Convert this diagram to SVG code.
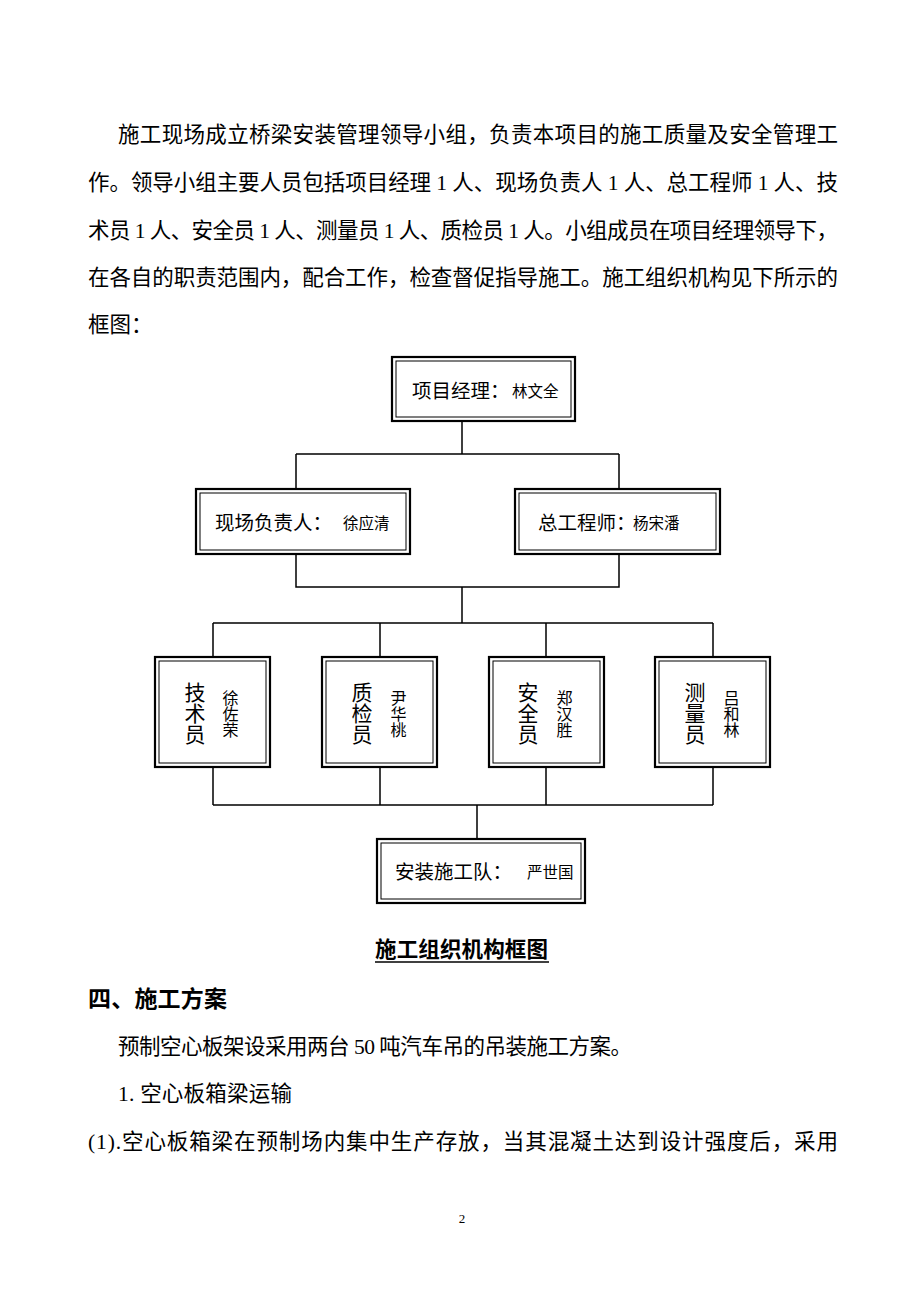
<svg xmlns="http://www.w3.org/2000/svg" width="920" height="1302" viewBox="0 0 920 1302">
<style>
.t{font-family:"Liberation Serif","Noto Sans CJK SC",serif;fill:#000}
.p{font-size:21.5px}
.b{font-weight:bold}
.big{font-size:19.5px}
.sm{font-size:15.5px}
.vb{font-size:21px;writing-mode:vertical-rl}
.vs{font-size:16px;writing-mode:vertical-rl}
.o{fill:#fff;stroke:#000;stroke-width:2.2}
.i{fill:none;stroke:#000;stroke-width:1}
.c{fill:none;stroke:#000;stroke-width:1.5}
</style>
<rect width="920" height="1302" fill="#fff"/>
<g id="text">
<text class="t p" x="118" y="142" textLength="720" lengthAdjust="spacing">施工现场成立桥梁安装管理领导小组，负责本项目的施工质量及安全管理工</text>
<text class="t p" x="88" y="190" textLength="750" lengthAdjust="spacing">作。领导小组主要人员包括项目经理 1 人、现场负责人 1 人、总工程师 1 人、技</text>
<text class="t p" x="88" y="238" textLength="750" lengthAdjust="spacing">术员 1 人、安全员 1 人、测量员 1 人、质检员 1 人。小组成员在项目经理领导下，</text>
<text class="t p" x="88" y="285" textLength="750" lengthAdjust="spacing">在各自的职责范围内，配合工作，检查督促指导施工。施工组织机构见下所示的</text>
<text class="t p" x="88" y="332">框图：</text>
<text class="t p b" x="375" y="957" textLength="173" lengthAdjust="spacing">施工组织机构框图</text>
<line x1="375" y1="962" x2="549" y2="962" stroke="#000" stroke-width="1.5"/>
<text class="t b" x="88" y="1007" font-size="23" textLength="139" lengthAdjust="spacing">四、施工方案</text>
<text class="t p" x="118" y="1054" textLength="514" lengthAdjust="spacing">预制空心板架设采用两台 50 吨汽车吊的吊装施工方案。</text>
<text class="t p" x="118" y="1101" textLength="174" lengthAdjust="spacing">1. 空心板箱梁运输</text>
<text class="t p" x="88" y="1149" textLength="750" lengthAdjust="spacing">(1).空心板箱梁在预制场内集中生产存放，当其混凝土达到设计强度后，采用</text>
<text class="t" x="462" y="1223" font-size="13" text-anchor="middle">2</text>
</g>
<g id="connectors">
<path class="c" d="M462 421V454M296 454H619M296 454V489M619 454V489"/>
<path class="c" d="M296 554V587H619V554M462 587V623M213 623H713M213 623V657M380 623V657M546 623V657M713 623V657"/>
<path class="c" d="M213 767V805M380 767V805M546 767V805M713 767V805M213 805H713M477 805V839"/>
</g>
<g id="n-manager">
<rect class="o" x="392" y="357" width="183" height="64"/>
<rect class="i" x="396" y="361" width="175" height="56"/>
<text class="t big" x="412" y="398">项目经理：</text>
<text class="t sm" x="512" y="397">林文全</text>
</g>
<g id="n-site">
<rect class="o" x="196" y="489" width="214" height="65"/>
<rect class="i" x="200" y="493" width="206" height="57"/>
<text class="t big" x="215" y="530">现场负责人：</text>
<text class="t sm" x="343" y="529">徐应清</text>
</g>
<g id="n-chief">
<rect class="o" x="515" y="489" width="205" height="65"/>
<rect class="i" x="519" y="493" width="197" height="57"/>
<text class="t big" x="538" y="530">总工程师：</text>
<text class="t sm" x="633" y="529">杨宋潘</text>
</g>
<g id="n-tech">
<rect class="o" x="155" y="657" width="115" height="110"/>
<rect class="i" x="159" y="661" width="107" height="102"/>
<text class="t vb" x="193" y="682">技术员</text>
<text class="t vs" x="229" y="690">徐佐荣</text>
</g>
<g id="n-qc">
<rect class="o" x="322" y="657" width="115" height="110"/>
<rect class="i" x="326" y="661" width="107" height="102"/>
<text class="t vb" x="360" y="682">质检员</text>
<text class="t vs" x="397" y="690">尹华桃</text>
</g>
<g id="n-safety">
<rect class="o" x="489" y="657" width="115" height="110"/>
<rect class="i" x="493" y="661" width="107" height="102"/>
<text class="t vb" x="526" y="682">安全员</text>
<text class="t vs" x="563" y="690">郑汉胜</text>
</g>
<g id="n-survey">
<rect class="o" x="655" y="657" width="115" height="110"/>
<rect class="i" x="659" y="661" width="107" height="102"/>
<text class="t vb" x="693" y="682">测量员</text>
<text class="t vs" x="730" y="690">吕和林</text>
</g>
<g id="n-team">
<rect class="o" x="377" y="839" width="208" height="64"/>
<rect class="i" x="381" y="843" width="200" height="56"/>
<text class="t big" x="395" y="879">安装施工队：</text>
<text class="t sm" x="527" y="878">严世国</text>
</g>
</svg>
